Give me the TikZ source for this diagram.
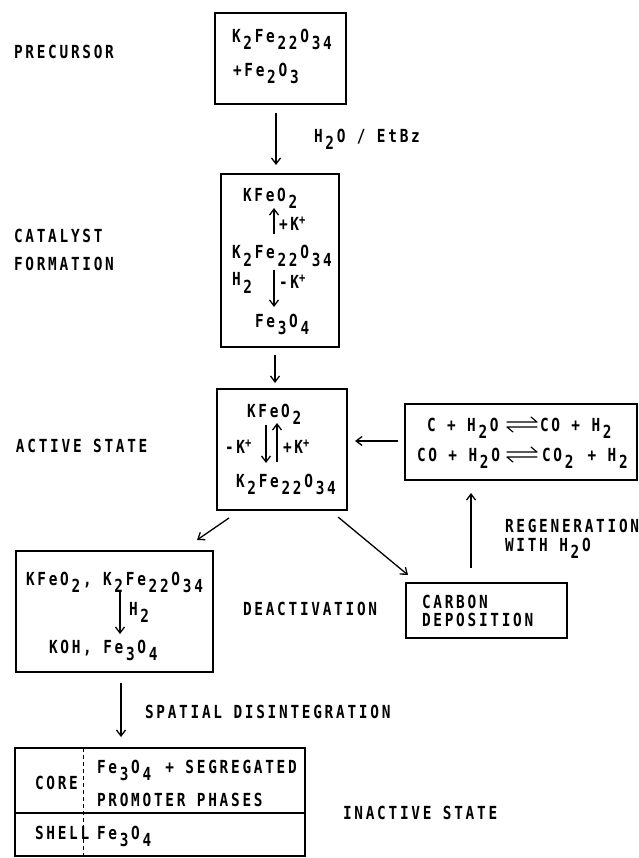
\documentclass[tikz,border=0pt]{standalone}
\usepackage{fontspec}
\usetikzlibrary{arrows.meta,calc}
% stencil-like lettering: condensed, widely spaced monospaced sans
\newfontfamily\lettering{DejaVu Sans Mono}[FakeStretch=0.8,LetterSpace=15.2]
\newlength\lsp
\setlength\lsp{2.73pt}% the letter spacing, restored around raised/lowered boxes
% chemistry sub/superscripts in the lettering style
\newcommand\dn[1]{\kern\lsp\raisebox{-7pt}{#1}\kern\lsp}
\newcommand\up[1]{\raisebox{6pt}{\fontsize{13}{13}\selectfont #1}}
\tikzset{
  txt/.style={anchor=base west, inner sep=0pt, outer sep=0pt,
              font=\lettering\bfseries\fontsize{18}{20}\selectfont},
  box/.style={draw, line width=1.4pt, inner sep=0pt, outer sep=0pt},
  arr/.style={line width=1.3pt, -{Straight Barb[length=6pt,width=9pt,line width=1.3pt]}},
  harp/.style={line width=1.2pt, line cap=round, line join=round},
}
\begin{document}
\begin{tikzpicture}[x=1pt,y=-1pt]
\useasboundingbox (0,0) rectangle (638,858);

% ---------- stage labels ----------
\node[txt] (lprec) at (14,59) {PRECURSOR};
\node[txt] (lcat1) at (14,243) {CATALYST};
\node[txt] (lcat2) at (14,271) {FORMATION};
\node[txt] (lact)  at (16,452) {ACTIVE STATE};
\node[txt] (ldeac) at (243,615) {DEACTIVATION};
\node[txt] (linac) at (343,819) {INACTIVE STATE};

% ---------- precursor ----------
\node[box, minimum width=131pt, minimum height=91pt] (b1) at (280.5,58.5) {};
\node[txt] (b1a) at (232,43) {K\dn{2}Fe\dn{22}O\dn{34}};
\node[txt] (b1b) at (233,77) {+Fe\dn{2}O\dn{3}};

% ---------- catalyst formation ----------
\node[box, minimum width=118pt, minimum height=173pt] (b2) at (280,260.5) {};
\node[txt] (b2a) at (243,202) {KFeO\dn{2}};
\node[txt] (b2b) at (279,231) {+K\up{+}};
\node[txt] (b2c) at (232,259) {K\dn{2}Fe\dn{22}O\dn{34}};
\node[txt] (b2d) at (232,286) {H\dn{2}};
\node[txt] (b2e) at (279,288) {-K\up{+}};
\node[txt] (b2f) at (255,327) {Fe\dn{3}O\dn{4}};
\coordinate (b2u0) at (274,234);
\coordinate (b2u1) at (274,208);
\coordinate (b2d0) at (274,270);
\coordinate (b2d1) at (274,307);
\draw[arr] (b2u0) -- (b2u1);
\draw[arr] (b2d0) -- (b2d1);

% ---------- active state ----------
\node[box, minimum width=130pt, minimum height=121pt] (b3) at (282,449.5) {};
\node[txt] (b3a) at (247,417) {KFeO\dn{2}};
\node[txt] (b3b) at (225,453) {-K\up{+}};
\node[txt] (b3c) at (283,453) {+K\up{+}};
\node[txt] (b3d) at (236,487) {K\dn{2}Fe\dn{22}O\dn{34}};
\coordinate (b3d0) at (266,425);
\coordinate (b3d1) at (266,463);
\coordinate (b3u0) at (277,462);
\coordinate (b3u1) at (277,423);
\draw[arr] (b3d0) -- (b3d1);
\draw[arr] (b3u0) -- (b3u1);

% ---------- regeneration equilibria ----------
\node[box, minimum width=232pt, minimum height=76pt] (br) at (521,442) {};
\node[txt] (bra) at (427,431) {C + H\dn{2}O};
\node[txt] (brb) at (540,431) {CO + H\dn{2}};
\node[txt] (brc) at (417,461) {CO + H\dn{2}O};
\node[txt] (brd) at (542,461) {CO\dn{2} + H\dn{2}};
% equilibrium harpoons
\draw[harp] (507,422) -- (537,422) -- (531,417);
\draw[harp] (537,427) -- (507,427) -- (513,432);
\draw[harp] (507,452) -- (537,452) -- (531,447);
\draw[harp] (537,457) -- (507,457) -- (513,462);

% ---------- deactivation products ----------
\node[box, minimum width=197pt, minimum height=121pt] (bl) at (114.5,611.5) {};
\node[txt] (bla) at (26,585) {KFeO\dn{2}, K\dn{2}Fe\dn{22}O\dn{34}};
\node[txt] (blb) at (129,615) {H\dn{2}};
\node[txt] (blc) at (49,653) {KOH, Fe\dn{3}O\dn{4}};
\coordinate (bld0) at (120,590);
\coordinate (bld1) at (120,634);
\draw[arr] (bld0) -- (bld1);

% ---------- carbon deposition ----------
\node[box, minimum width=161pt, minimum height=55pt] (bc) at (486.5,610.5) {};
\node[txt] (bca) at (422,608) {CARBON};
\node[txt] (bcb) at (422,626) {DEPOSITION};

% ---------- inactive state table ----------
\node[box, minimum width=290pt, minimum height=108pt] (tb) at (160,802) {};
\draw[line width=1.4pt] ($(tb.west)+(0,11)$) -- ($(tb.east)+(0,11)$);
\draw[line width=0.9pt, dash pattern=on 4pt off 3pt]
  ($(tb.north west)+(68,0)$) -- ($(tb.south west)+(68,0)$);
\node[txt] (tca) at (35,789) {CORE};
\node[txt] (tcb) at (97,773) {Fe\dn{3}O\dn{4} + SEGREGATED};
\node[txt] (tcc) at (97,806) {PROMOTER PHASES};
\node[txt] (tsa) at (35,839) {SHELL};
\node[txt] (tsb) at (97,839) {Fe\dn{3}O\dn{4}};

% ---------- connectors ----------
\draw[arr] ($(b1.south)+(-4.5,9)$) -- ($(b2.north)+(-4,-9)$);
\node[txt] (lh2o) at (314,143) {H\dn{2}O / EtBz};
\draw[arr] ($(b2.south)+(-5,8)$) -- ($(b3.north)+(-7,-6)$);
\draw[arr] ($(br.west)+(-7,-1)$) -- ($(b3.east |- br.west)+(8,-1)$);
\draw[arr] ($(bc.north)+(-15.5,-15)$) -- ($(br.south -| bc.north)+(-15.5,13)$);
\node[txt] (lreg1) at (505,532) {REGENERATION};
\node[txt] (lreg2) at (505,551) {WITH H\dn{2}O};
\draw[arr] ($(b3.south west)+(12,8)$) -- ($(bl.north east)+(-16,-11)$);
\draw[arr] ($(b3.south east)+(-9,7)$) -- ($(bc.north west)+(2,-8)$);
\draw[arr] ($(bl.south)+(6.5,11)$) -- ($(bl.south |- tb.north)+(6.5,-11)$);
\node[txt] (lspat) at (145,718) {SPATIAL DISINTEGRATION};
\end{tikzpicture}
\end{document}
